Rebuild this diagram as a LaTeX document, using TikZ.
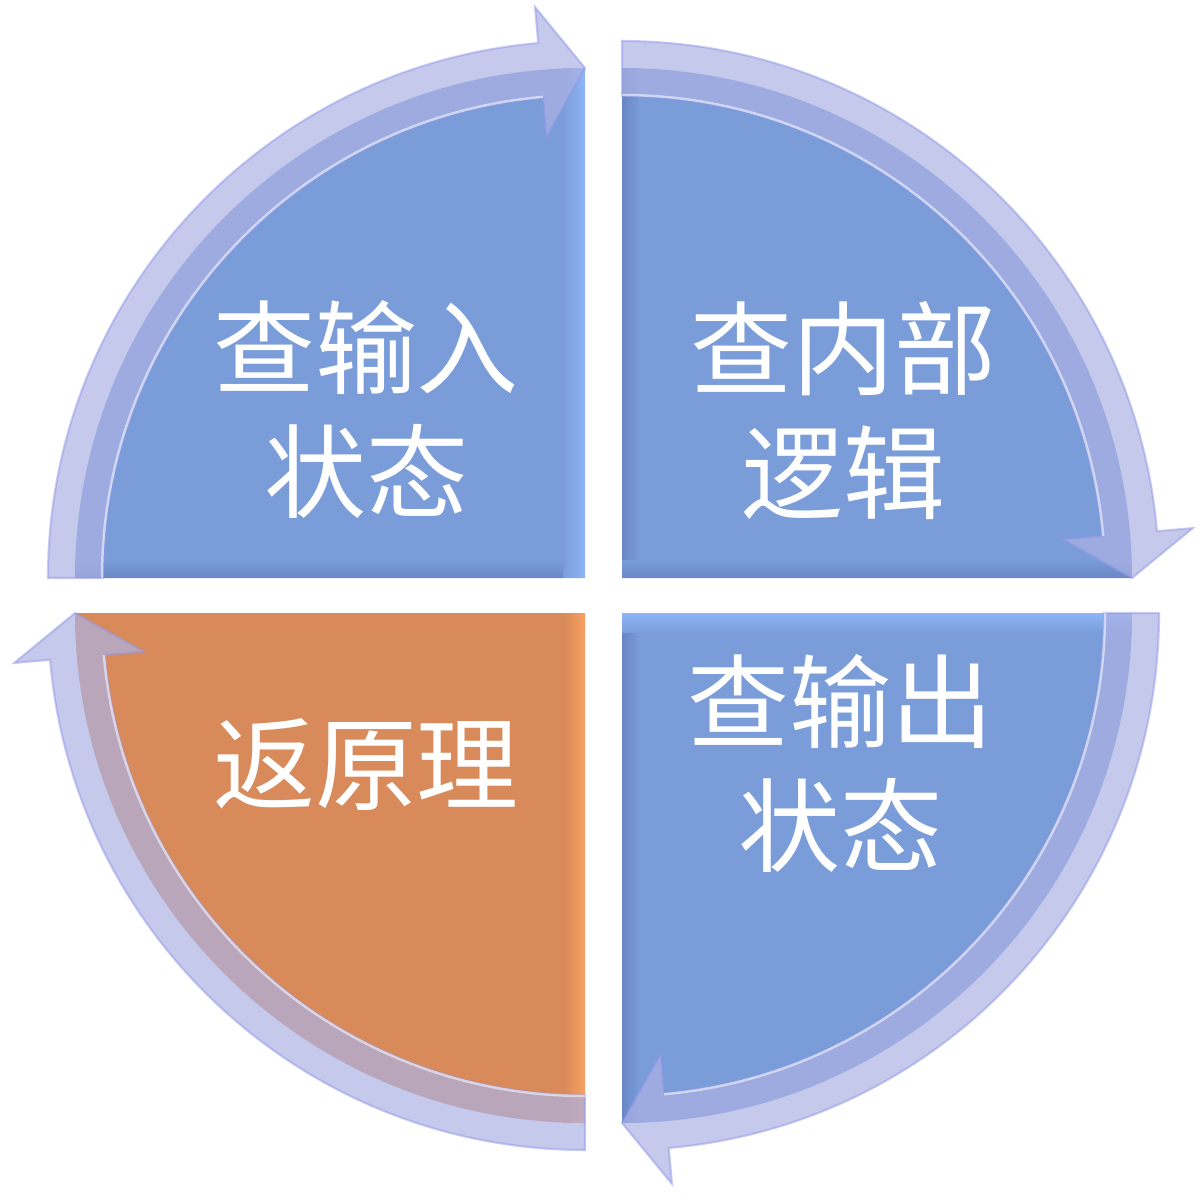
\documentclass[tikz,border=0pt]{standalone}
\usepackage{fontspec}
\newfontfamily\cjk{Noto Sans CJK SC}
\definecolor{quadBlue}{RGB}{122,157,218}
\definecolor{quadBlueLight}{RGB}{143,181,245}
\definecolor{quadBlueDark}{RGB}{104,134,196}
\definecolor{quadOrange}{RGB}{217,138,90}
\definecolor{quadOrangeLight}{RGB}{248,160,96}
\definecolor{ringLavender}{RGB}{172,178,228}
\tikzstyle{ringArrow}=[fill=ringLavender, fill opacity=0.7, draw=ringLavender!85!blue, draw opacity=0.5, line width=0.6pt]
\tikzstyle{ringGlint}=[draw=white, draw opacity=0.55, line width=0.7pt]
\tikzstyle{quadLabel}=[text=white, font=\cjk\fontsize{29}{35.2}\selectfont, align=center, inner sep=0pt, anchor=base]

\begin{document}
\begin{tikzpicture}[x=0.01cm, y=0.01cm]
    \useasboundingbox (0,0) rectangle (1204,1196);

    % quarter discs
    \begin{scope}
        \clip (585,618) -- ++(180:510) arc[start angle=180, end angle=90, radius=510] -- cycle;
        \fill[quadBlue] (75,618) rectangle (585,1128);
        \shade[left color=quadBlue, right color=quadBlueLight] (563,618) rectangle (585,1128);
        \shade[top color=quadBlue, bottom color=quadBlueDark] (75,618) rectangle (563,636);
    \end{scope}
    \begin{scope}
        \clip (622,618) -- ++(90:510) arc[start angle=90, end angle=0, radius=510] -- cycle;
        \fill[quadBlue] (622,618) rectangle (1132,1128);
        \shade[left color=quadBlueDark, right color=quadBlue] (622,636) rectangle (640,1128);
        \shade[top color=quadBlue, bottom color=quadBlueDark] (622,618) rectangle (1132,636);
    \end{scope}
    \begin{scope}
        \clip (622,583) -- ++(0:510) arc[start angle=0, end angle=-90, radius=510] -- cycle;
        \fill[quadBlue] (622,73) rectangle (1132,583);
        \shade[top color=quadBlueLight, bottom color=quadBlue] (622,563) rectangle (1132,583);
        \shade[left color=quadBlueDark, right color=quadBlue] (622,73) rectangle (640,563);
    \end{scope}
    \begin{scope}
        \clip (585,583) -- ++(-90:510) arc[start angle=-90, end angle=-180, radius=510] -- cycle;
        \fill[quadOrange] (75,73) rectangle (585,583);
        \shade[left color=quadOrange, right color=quadOrangeLight] (563,73) rectangle (585,583);
    \end{scope}

    % ring arrows, one per quarter
    \foreach \cx/\cy/\s in {585/618/180, 622/618/90, 622/583/0, 585/583/-90} {
        \begin{scope}[shift={(\cx,\cy)}]
            \filldraw[ringArrow] (\s:482) -- (\s:537)
                arc[start angle=\s, end angle=\s-85, radius=537]
                -- (\s-85:573) -- (\s-90:510) -- (\s-85:443) -- (\s-85:482)
                arc[start angle=\s-85, end angle=\s, radius=482] -- cycle;
            \draw[ringGlint] (\s:483) arc[start angle=\s, end angle=\s-85, radius=483];
        \end{scope}
    }

    \node[quadLabel] (inState) at (366,686) {查输入\\状态};
    \node[quadLabel] (innerLogic) at (843,685) {查内部\\逻辑};
    \node[quadLabel] (outState) at (840,332) {查输出\\状态};
    \node[quadLabel] (backTrace) at (366,394) {返原理};
\end{tikzpicture}
\end{document}
